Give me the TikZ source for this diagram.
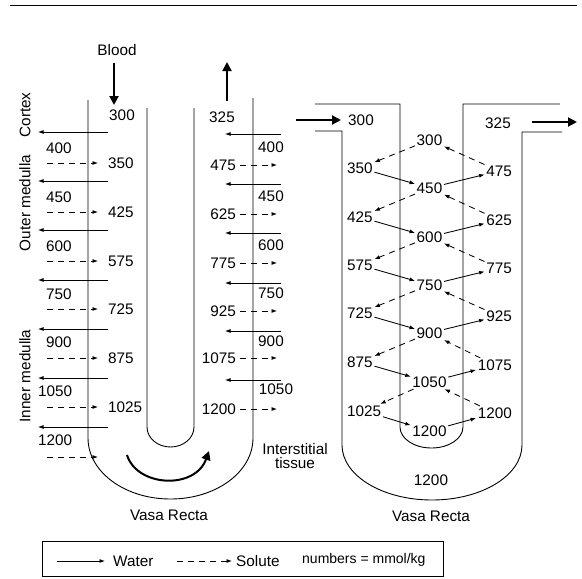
\documentclass[tikz,border=0pt]{standalone}
\usepackage{fontspec}
\setmainfont{Liberation Sans}
\usetikzlibrary{arrows.meta}
\begin{document}
\begin{tikzpicture}[x=1pt,y=-1pt,
  every node/.style={font=\fontsize{15.3}{17}\selectfont, inner sep=1.5pt},
  wall/.style={line width=0.9pt},
  water/.style={line width=0.85pt,-{Latex[length=5.5pt,width=4pt]}},
  solute/.style={line width=0.85pt,dash pattern=on 6pt off 5pt,-{Latex[length=5.5pt,width=4pt]}},
  flow/.style={line width=2pt,-{Triangle[length=9pt,width=9pt]}},
  lbl/.style={rotate=90},
]
\useasboundingbox (0,0) rectangle (582,579);
% top rule
\draw[line width=0.8pt] (10,5) -- (577,5);

% ---------------- left figure ----------------
\draw[wall] (88,100) -- (88,438) .. controls (88,472) and (124.94,499) .. (170.5,499)
  .. controls (216.06,499) and (253,472) .. (253,438) -- (253,98);
\draw[wall] (147,108) -- (147,427) .. controls (147,438.05) and (157.52,447) .. (170.5,447)
  .. controls (183.48,447) and (194,438.05) .. (194,427) -- (194,108);

\node (blood) at (117,50) {Blood};
\draw[flow] (114,63) -- (114,105);
\draw[flow] (227,101) -- (227,62);
\node (in300) at (122,115) {300};
\node (out325) at (222,117) {325};

\node[lbl] (cortex) at (25,115) {Cortex};
\node[lbl] (outer) at (25,203) {Outer medulla};
\node[lbl] (inner) at (25,376) {Inner medulla};

% left limb: water out, solute in
\foreach \yw/\yn/\yd/\a/\ax/\b [count=\i] in
 {132/148/163/400/44.5/350, 181/197/212/450/44.5/425, 230/246/261/600/44.5/575,
  280/294/309/750/44.5/725, 329/342/358/900/44.5/875, 378/391/407/1050/36.5/1025}{
  \draw[water] (108,\yw) -- (38,\yw);
  \node[anchor=west] (la\i) at (\ax,\yn) {\a};
  \draw[solute] (47,\yd) -- (98,\yd);
  \node[anchor=west] (lb\i) at (106.5,\yd) {\b};
}
\draw[water] (108,427) -- (38,427);
\node[anchor=west] (la7) at (36.5,440) {1200};
\draw[solute] (47,457) -- (98,457);

% right limb: water in, solute out
\foreach \yw/\yn/\yd/\a/\ax/\b [count=\i] in
 {134/147/165/400/271/475, 184/196/214/450/271/625, 233/245/263/600/271/775,
  283/293/311/750/271/925, 331/341/358/900/271/1075, 380/389/409/1050/276/1200}{
  \draw[water] (281,\yw) -- (225,\yw);
  \node (ra\i) at (\ax,\yn) {\a};
  \draw[solute] (240,\yd) -- (277,\yd);
  \node[anchor=east] (rb\i) at (237.5,\yd) {\b};
}

\node[align=center] (inter) at (295,456) {Interstitial\\[-3pt]tissue};
\draw[flow] (127,455) .. controls (137,487) and (195,490) .. (209,451);
\node (vr1) at (169,515) {Vasa Recta};

% ---------------- right figure ----------------
\draw[wall] (315,131) -- (342,131) -- (342,445) .. controls (342,475.5) and (382.3,500) .. (432,500)
  .. controls (481.7,500) and (522,475.5) .. (522,445) -- (522,132) -- (562,132);
\draw[wall] (315,104) -- (400,104) -- (400,427) .. controls (400,438.6) and (414.1,448) .. (431.5,448)
  .. controls (448.9,448) and (463,438.6) .. (463,427) -- (463,104) -- (560,104);
\draw[flow] (296,120) -- (341,120);
\draw[flow] (532,122) -- (577,122);
\node (rin) at (361,120) {300};
\node (rout) at (498,123) {325};

\foreach \t/\y [count=\i] in {350/168,425/217,575/265,725/313,875/362,1025/411}
  \node[anchor=west] (L\i) at (345.5,\y) {\t};
\foreach \t/\y [count=\i from 0] in {300/140,450/188,600/237,750/285,900/333,1050/382,1200/431}
  \node (M\i) at (429.5,\y) {\t};
\foreach \t/\y [count=\i] in {475/171,625/220,775/268,925/316,1075/365,1200/413}
  \node[anchor=east] (R\i) at (513.5,\y) {\t};

\foreach \i [evaluate=\i as \j using int(\i-1)] in {1,...,6}{
  \draw[solute] (M\j) -- (L\i);
  \draw[solute] (R\i) -- (M\j);
  \draw[water] (L\i) -- (M\i);
  \draw[water] (M\i) -- (R\i);
}
\node (bot1200) at (431,480) {1200};
\node (vr2) at (431,516) {Vasa Recta};

% ---------------- legend ----------------
\draw[line width=0.8pt] (42,541) rectangle (443,576);
\coordinate (w1) at (57,561); \coordinate (w2) at (105,561);
\draw[water] (w1) -- (w2);
\node[anchor=west] (lw) at (111.5,561) {Water};
\coordinate (s1) at (177,561); \coordinate (s2) at (232,561);
\draw[solute] (s1) -- (s2);
\node[anchor=west] (ls) at (234.5,561) {Solute};
\node[anchor=west,font=\fontsize{14}{16}\selectfont] (ln) at (300.5,560) {numbers = mmol/kg};
\end{tikzpicture}
\end{document}
